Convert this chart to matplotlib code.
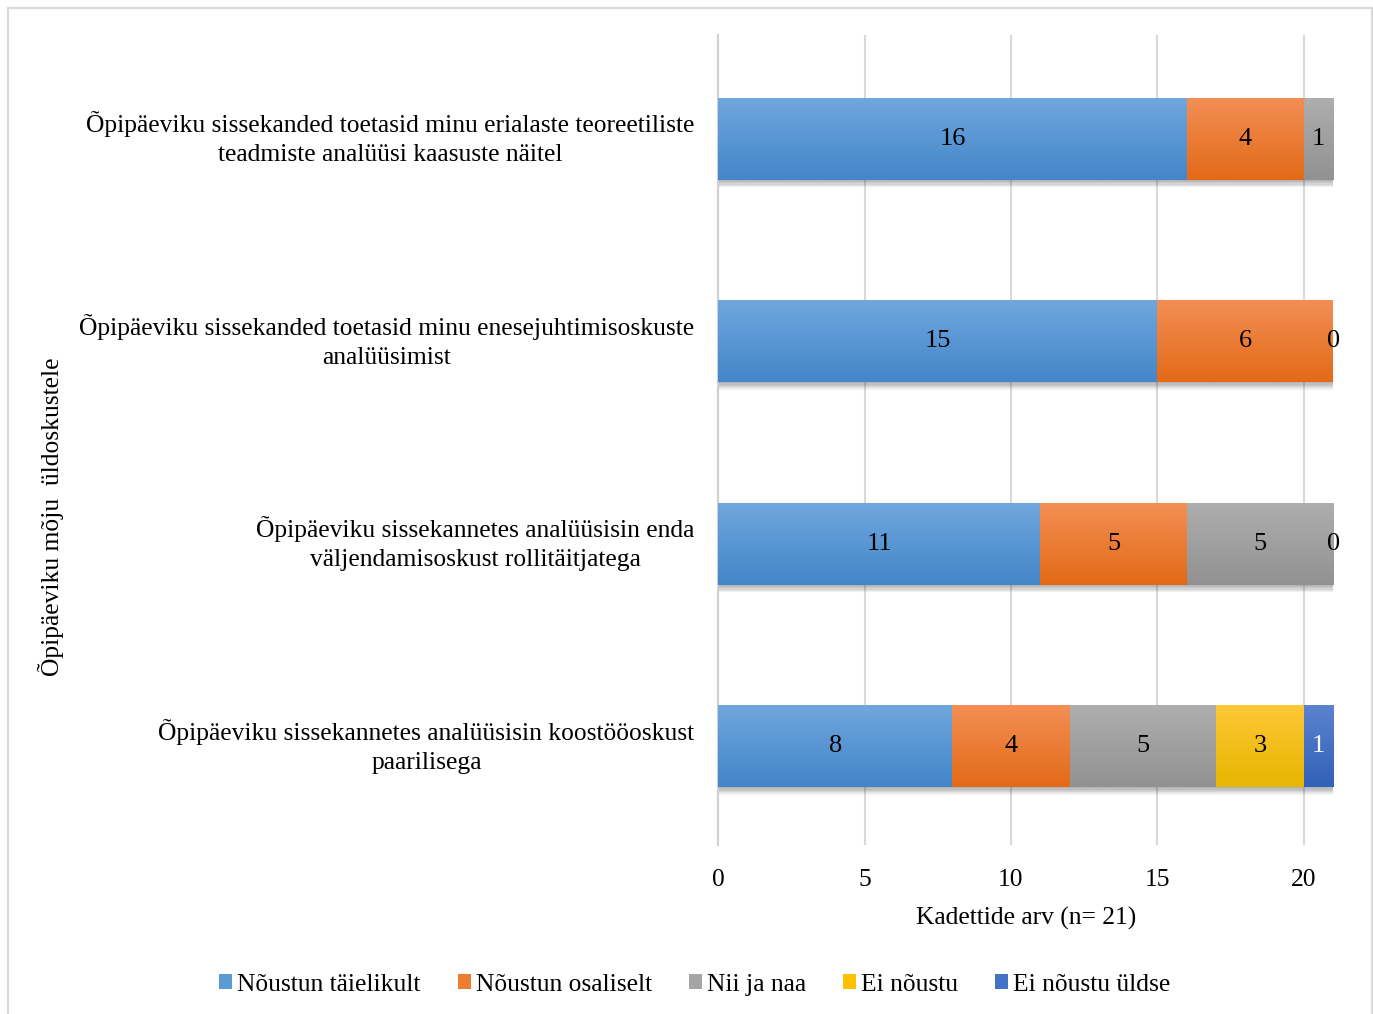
"""Stacked horizontal bar chart: Õpipäeviku mõju üldoskustele."""

import numpy as np
import matplotlib
matplotlib.use("Agg")
import matplotlib.pyplot as plt
import matplotlib.patheffects as pe
from matplotlib.colors import LinearSegmentedColormap
from matplotlib.patches import Rectangle, Patch

plt.rcParams['font.family'] = ['Liberation Serif', 'DejaVu Serif']

# categories, top to bottom
categories = [
    "Õpipäeviku sissekanded toetasid minu erialaste teoreetiliste\nteadmiste analüüsi kaasuste näitel",
    "Õpipäeviku sissekanded toetasid minu enesejuhtimisoskuste\nanalüüsimist",
    "Õpipäeviku sissekannetes analüüsisin enda\nväljendamisoskust rollitäitjatega",
    "Õpipäeviku sissekannetes analüüsisin koostööoskust\npaarilisega",
]
series = ["Nõustun täielikult", "Nõustun osaliselt", "Nii ja naa", "Ei nõustu", "Ei nõustu üldse"]

# None = no label shown, 0 = zero label shown
taielikult = [16, 15, 11, 8]
osaliselt = [4, 6, 5, 4]
nii_ja_naa = [1, 0, 5, 5]
ei_noustu = [None, None, 0, 3]
ei_uldse = [None, None, None, 1]
values = [taielikult, osaliselt, nii_ja_naa, ei_noustu, ei_uldse]

# (top, bottom) gradient colours per series
grad_colors = [("#70A7DE", "#4386C9"), ("#F38F55", "#E36A17"), ("#AEAEAE", "#929292"),
               ("#FFC837", "#E6B600"), ("#5C83CF", "#3161B8")]
legend_colors = ["#5B9BD5", "#ED7D31", "#A5A5A5", "#FFC000", "#4472C4"]
label_colors = ["black", "black", "black", "black", "white"]

FS = 18.4

fig = plt.figure(figsize=(13.73, 10.14), dpi=100)
ax = fig.add_axes([0.523, 0.1667, 0.448, 0.7988])

# soft shadow below the bars, built from a few faint offset copies
shadow = [pe.SimplePatchShadow(offset=(0.8, -k * 0.9), alpha=0.07, shadow_rgbFace="0.2")
          for k in range(1, 7)] + [pe.Normal()]

y = np.arange(len(categories))
left = np.zeros(len(categories))
for i, name in enumerate(series):
    vals = np.array([v if v is not None else 0 for v in values[i]], dtype=float)
    bars = ax.barh(y, vals, left=left, height=0.405, color=legend_colors[i], zorder=3)
    cmap = LinearSegmentedColormap.from_list("g%d" % i, list(grad_colors[i]))
    for b, v in zip(bars, vals):
        if v <= 0:
            continue
        b.set_path_effects(shadow)
        x0, y0 = b.get_x(), b.get_y()
        w, h = b.get_width(), b.get_height()
        im = ax.imshow(np.linspace(0, 1, 64).reshape(-1, 1), cmap=cmap, aspect='auto',
                       extent=(x0, x0 + w, y0 + h, y0), zorder=3.5, interpolation='bilinear')
        im.set_clip_path(b)
    labels = ["" if v is None else str(v) for v in values[i]]
    ax.bar_label(bars, labels=labels, label_type='center', fontsize=19,
                 color=label_colors[i], zorder=5)
    left += vals

ax.set_xlim(0, 21)
ax.set_ylim(3.488, -0.512)
ax.set_xticks([0, 5, 10, 15, 20])
ax.set_yticks(y)
ax.set_yticklabels(categories, fontsize=FS, multialignment='center', linespacing=1.42,
                   va='center')
ax.tick_params(axis='both', length=0, labelsize=FS)
ax.tick_params(axis='y', pad=17)
ax.tick_params(axis='x', pad=17)
ax.grid(axis='x', color="#D9D9D9", linewidth=1.5, zorder=0)
for s in ['top', 'right', 'bottom']:
    ax.spines[s].set_visible(False)
ax.spines['left'].set_color("#D0D0D0")
ax.spines['left'].set_linewidth(1.5)
ax.set_xlabel("Kadettide arv (n= 21)", fontsize=FS, labelpad=12)

fig.text(0.037, 0.49, "Õpipäeviku mõju  üldoskustele", rotation=90, fontsize=FS,
         ha='center', va='center')

handles = [Patch(facecolor=c, edgecolor='none') for c in legend_colors]
fig.legend(handles, series, loc='center', bbox_to_anchor=(0.506, 0.029), ncol=5,
           frameon=False, fontsize=FS, handlelength=0.5, handleheight=0.5,
           handletextpad=0.2, columnspacing=1.45)

fig.patches.append(Rectangle((8 / 1373, -0.01), 1364 / 1373, 1 - 8 / 1014 + 0.01,
                             transform=fig.transFigure, fill=False,
                             edgecolor="#D9D9D9", linewidth=1.5))

fig.savefig("out.png", dpi=100)
